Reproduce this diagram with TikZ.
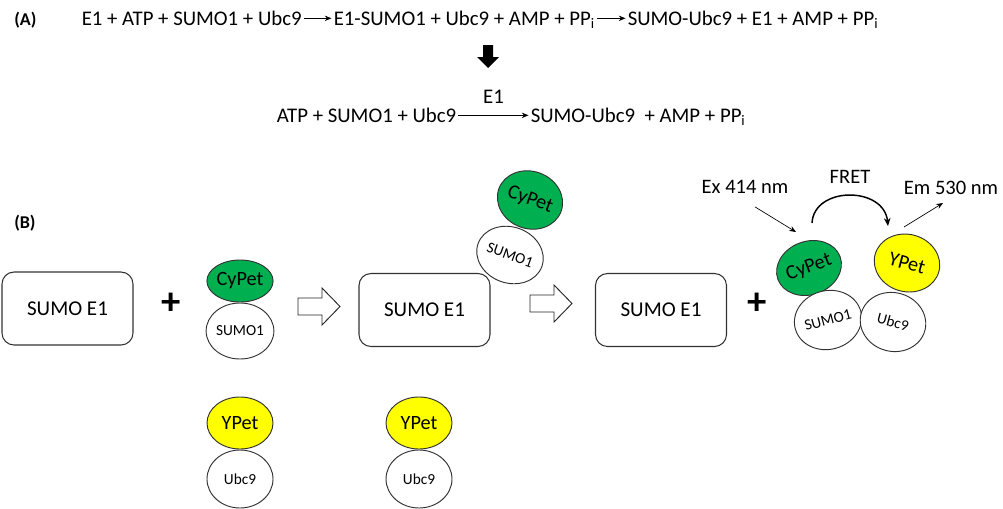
\documentclass[tikz,border=0pt]{standalone}
\usepackage{fontspec}
\setmainfont{Carlito}
\usetikzlibrary{shapes.geometric,arrows.meta}
\definecolor{cygreen}{RGB}{0,176,80}
\definecolor{ypyellow}{RGB}{255,255,0}
\definecolor{edgegray}{RGB}{50,50,50}
\begin{document}
\begin{tikzpicture}[x=0.75pt,y=-0.75pt,
  txt/.style={inner xsep=1.5pt,inner ysep=0pt,text height=10pt,text depth=0pt,font=\fontsize{15.6}{18}\selectfont},
  lbl/.style={inner sep=0pt,font=\fontsize{15.4}{18}\selectfont},
  plus/.style={inner sep=0pt,font=\fontsize{29}{30}\selectfont\bfseries},
  tag/.style={inner sep=0pt,font=\fontsize{13.5}{16}\selectfont\bfseries},
  thinarrow/.style={draw,line width=0.5pt,-{Stealth[length=5pt,width=4pt]}},
  e1box/.style={draw=edgegray,line width=0.8pt,rounded corners=9pt,minimum width=98.25pt,minimum height=54.75pt,inner sep=0pt,font=\fontsize{15.8}{18}\selectfont},
  prot/.style={ellipse,draw=edgegray,line width=0.7pt,inner sep=0pt,outer sep=0pt,minimum width=49.5pt},
  cyp/.style={prot,fill=cygreen,font=\fontsize{15.2}{18}\selectfont},
  ypt/.style={prot,fill=ypyellow,font=\fontsize{15.2}{18}\selectfont},
  small/.style={prot,fill=white,font=\fontsize{11.5}{13}\selectfont},
  hollow/.style={draw=black!85,line width=0.7pt,fill=white}
]
\useasboundingbox (0,0) rectangle (1003,508);

% ---------- (A) ----------
\node[tag,anchor=base west] (tagA) at (14,25) {(A)};
\node[txt,anchor=base west] (r1a) at (79.5,25) {E1 + ATP + SUMO1 + Ubc9};
\node[txt,anchor=base west] (r1b) at (331.5,25) {E1-SUMO1 + Ubc9 + AMP + PP\textsubscript{i}};
\node[txt,anchor=base west] (r1c) at (625.5,25) {SUMO-Ubc9 + E1 + AMP + PP\textsubscript{i}};
\draw[thinarrow] (r1a.east) -- (r1b.west);
\draw[thinarrow] (r1b.east) -- (r1c.west);

\fill (483,45) -- (493,45) -- (493,57) -- (499,57) -- (488,68) -- (477,57) -- (483,57) -- cycle;

\node[txt,anchor=base west] (r2a) at (274.5,122) {ATP + SUMO1 + Ubc9};
\node[txt,anchor=base west] (r2b) at (528.5,122) {SUMO-Ubc9\ \ + AMP + PP\textsubscript{i}};
\draw[thinarrow] (r2a.east) -- node[txt,anchor=base,yshift=9pt] (e1lab) {E1} (r2b.west);

% ---------- (B) ----------
\node[tag,anchor=base west] (tagB) at (14,228) {(B)};

\node[e1box] (box1) at (67.5,308.5) {SUMO E1};
\node[plus] (plus1) at (171.5,304) {+};
\node[cyp,minimum height=31.5pt] (cyp1) at (240,281) {CyPet};
\node[small,minimum height=42pt] (sumo1a) at (240,331) {SUMO1};
\node[ypt,minimum height=39pt] (ypt1) at (240,423) {YPet};
\node[small,minimum height=43.5pt] (ubc1) at (240,479) {Ubc9};

\draw[hollow] (298,298) -- (322,298) -- (322,288) -- (340,306.5) -- (322,325) -- (322,315) -- (298,315) -- cycle;

\node[e1box] (box2) at (424.5,310) {SUMO E1};
\node[cyp,minimum height=43pt,rotate=-20] (cyp2) at (530,200) {CyPet};
\node[small,minimum height=42pt,rotate=-20] (sumo1b) at (510,255) {SUMO1};
\node[ypt,minimum height=39pt] (ypt2) at (419,423) {YPet};
\node[small,minimum height=43.5pt] (ubc2) at (419,479) {Ubc9};

\draw[hollow] (530,295) -- (554,295) -- (554,285) -- (572,303.5) -- (554,322) -- (554,312) -- (530,312) -- cycle;

\node[e1box] (box3) at (661,310) {SUMO E1};
\node[plus] (plus2) at (757,304) {+};
\node[cyp,minimum height=40pt,rotate=20] (cyp3) at (809,268) {CyPet};
\node[small,minimum height=44pt,rotate=15] (sumo1c) at (828,320) {SUMO1};
\node[ypt,minimum height=43pt,rotate=-15] (ypt3) at (907,263) {YPet};
\node[small,minimum height=44pt,rotate=-15] (ubc3) at (893,322) {Ubc9};

\node[lbl] (ex) at (745,187) {Ex 414 nm};
\node[lbl] (fret) at (850,177) {FRET};
\node[lbl] (em) at (951,188) {Em 530 nm};

\coordinate (exend) at (796,232);
\coordinate (fretA) at (812,223);
\coordinate (fretB) at (888,226);
\coordinate (emA) at (904,227);
\coordinate (emB) at (943,203);
\draw[thinarrow] ([shift={(10,13)}]ex.south) -- (exend);
\draw[line width=1.1pt,-{Stealth[length=6pt,width=5pt]}] (fretA) .. controls (814,186) and (884,186) .. (fretB);
\draw[thinarrow] (emA) -- (emB);
\end{tikzpicture}
\end{document}
